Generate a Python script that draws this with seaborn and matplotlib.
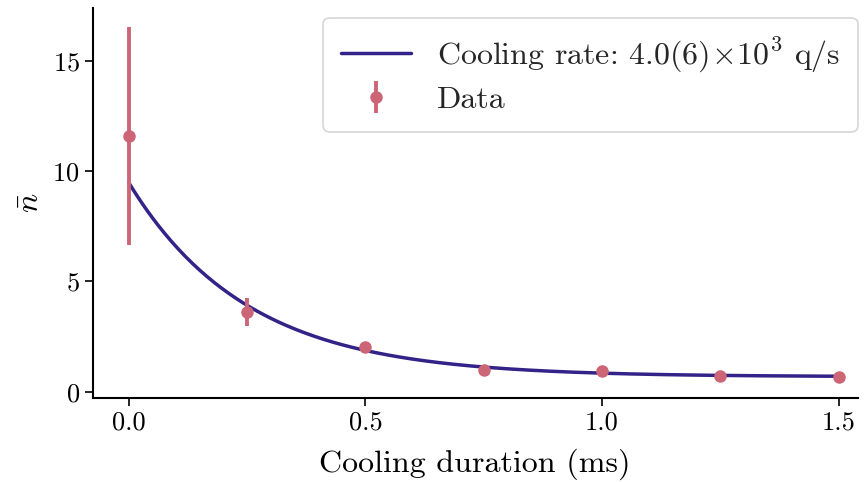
import numpy as np
import pandas as pd
import matplotlib
matplotlib.use("Agg")
import matplotlib.pyplot as plt
import seaborn as sns

# Data
durations_ms = [0.0, 0.25, 0.5, 0.75, 1.0, 1.25, 1.5]
nbar = [11.6, 3.62, 2.05, 1.0, 0.96, 0.69, 0.68]
nbar_err = [4.95, 0.63, 0.2, 0.08, 0.08, 0.06, 0.06]

# Fit parameters: nbar(t) = amp * exp(-rate * t) + offset
fit_amp = 8.8
fit_rate_per_ms = 4.0
fit_offset = 0.68

sns.set_style("ticks")
plt.rcParams["font.family"] = ["serif"]
plt.rcParams["font.serif"] = ["cmr10", "DejaVu Serif"]
plt.rcParams["mathtext.fontset"] = "cm"
plt.rcParams["axes.unicode_minus"] = False
plt.rcParams["axes.formatter.use_mathtext"] = True

line_color = "#332288"
data_color = "#CC6677"

fig, ax = plt.subplots(figsize=(8.68, 4.82), dpi=100)

t_fit = np.linspace(0, 1.5, 300)
fit_df = pd.DataFrame({"t": t_fit,
                       "n": fit_amp * np.exp(-fit_rate_per_ms * t_fit) + fit_offset})
sns.lineplot(data=fit_df, x="t", y="n", ax=ax, color=line_color, linewidth=2.5,
             label=r"Cooling rate: $4.0(6)\!\times\!10^3$ q/s")

ax.errorbar(durations_ms, nbar, yerr=nbar_err, fmt="o", color=data_color,
            markersize=8, elinewidth=2.8, capsize=0, label="Data", zorder=3)

ax.set_xlim(-0.076, 1.54)
ax.set_ylim(-0.27, 17.4)
ax.set_xticks([0.0, 0.5, 1.0, 1.5])
ax.set_xticklabels(["0.0", "0.5", "1.0", "1.5"])
ax.set_yticks([0, 5, 10, 15])
ax.set_xlabel("Cooling duration (ms)", fontsize=23, color="black", labelpad=10)
ax.set_ylabel(r"$\bar{n}$", fontsize=23, color="black", labelpad=5)
ax.tick_params(labelsize=19, length=6, width=1.2, colors="black")
for s in ax.spines.values():
    s.set_linewidth(1.5)
    s.set_color("black")
sns.despine(ax=ax)

leg = ax.legend(loc="upper right", fontsize=23, frameon=True, fancybox=True,
                edgecolor="#cccccc", handlelength=2.2, borderpad=0.55,
                labelspacing=0.35, borderaxespad=0, bbox_to_anchor=(1.0, 0.975))
leg.get_frame().set_linewidth(1.2)

fig.subplots_adjust(left=0.107, right=0.988, bottom=0.175, top=0.983)
fig.savefig("out.png", dpi=100)
